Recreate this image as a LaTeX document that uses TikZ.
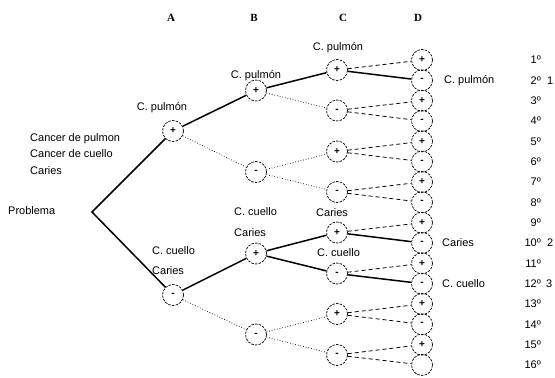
\documentclass[tikz,border=0pt]{standalone}
\usepackage{fontspec}
\setmainfont{Liberation Sans}
\newfontfamily\hfont{Liberation Serif}
\begin{document}
\begin{tikzpicture}[x=1pt,y=-1pt,
  st/.style={circle, draw, dash pattern=on 2.5pt off 1.2pt, line width=0.7pt, minimum size=21pt, inner sep=0pt, font=\fontsize{10}{10}\selectfont\bfseries},
  lbl/.style={font=\fontsize{11}{13}\selectfont, inner sep=0pt},
  hd/.style={font=\hfont\bfseries\fontsize{11}{11}\selectfont, inner sep=0pt},
  strong/.style={line width=1.5pt},
  weak/.style={line width=0.7pt, dotted},
  dsh/.style={line width=0.8pt, dash pattern=on 4pt off 3pt}]
\useasboundingbox (0,0) rectangle (555,378);
% headings
\node[hd] (hA) at (171,18) {A};
\node[hd] (hB) at (254,18) {B};
\node[hd] (hC) at (343,18) {C};
\node[hd] (hD) at (418,18) {D};
% root
\node[lbl, anchor=west] (prob) at (8,211) {Problema};
\coordinate (root) at (92,212);
\node[lbl, anchor=west, align=left, font=\fontsize{11}{16.5}\selectfont] (cases) at (30,154) {Cancer de pulmon\\Cancer de cuello\\Caries};
% level A
\node[st] (a1) at (173,131) {+};
\node[st] (a2) at (173,295) {-};
% level B
\node[st] (b1) at (256,90.5) {+};
\node[st] (b2) at (256,172) {-};
\node[st] (b3) at (256,253.5) {+};
\node[st] (b4) at (256,334.5) {-};
% level C
\node[st] (c1) at (337,70) {+};
\node[st] (c2) at (337,110.5) {-};
\node[st] (c3) at (337,151.5) {+};
\node[st] (c4) at (337,192) {-};
\node[st] (c5) at (337,232.5) {+};
\node[st] (c6) at (337,273.5) {-};
\node[st] (c7) at (337,314) {+};
\node[st] (c8) at (337,355) {-};
% level D
\foreach \i/\s in {1/+,2/-,3/+,4/-,5/+,6/-,7/+,8/-,9/+,10/-,11/+,12/-,13/+,14/-,15/+,16/{}} {
  \pgfmathsetmacro{\yy}{60+(\i-1)*20.33}
  \node[st] (d\i) at (422,\yy) {\s};
  \node[lbl, anchor=east] (n\i) at (541,\yy) {\i º};
}
\node[lbl, anchor=west] (m1) at (547,80.3) {1};
\node[lbl, anchor=west] (m2) at (547,243) {2};
\node[lbl, anchor=west] (m3) at (546,283.6) {3};
% labels
\node[lbl] (la1) at (162,108) {C. pulmón};
\node[lbl] (lb1) at (256,76) {C. pulmón};
\node[lbl] (lc1) at (338,48) {C. pulmón};
\node[lbl, anchor=west] (ld2) at (444,80.3) {C. pulmón};
\node[lbl, anchor=west] (ld10) at (442,243) {Caries};
\node[lbl, anchor=west] (ld12) at (442,283.6) {C. cuello};
\node[lbl, anchor=west, align=left, font=\fontsize{11}{20}\selectfont] (la2) at (152,261) {C. cuello\\Caries};
\node[lbl, anchor=west, align=left, font=\fontsize{11}{21}\selectfont] (lb3) at (234,222) {C. cuello\\Caries};
\node[lbl, anchor=west] (lc4) at (316,213) {Caries};
\node[lbl, anchor=west] (lc5) at (317,253) {C. cuello};
% connectors
\draw[strong] (a1) -- (root) -- (a2);
\draw[strong] (a1) -- (b1);
\draw[weak] (a1) -- (b2);
\draw[strong] (a2) -- (b3);
\draw[weak] (a2) -- (b4);
\draw[strong] (b1) -- (c1);
\draw[weak] (b1) -- (c2);
\draw[weak] (b2) -- (c3);
\draw[weak] (b2) -- (c4);
\draw[strong] (b3) -- (c5);
\draw[strong] (b3) -- (c6);
\draw[weak] (b4) -- (c7);
\draw[weak] (b4) -- (c8);
\draw[dsh] (c1) -- (d1);
\draw[strong] (c1) -- (d2);
\draw[dsh] (c2) -- (d3);
\draw[dsh] (c2) -- (d4);
\draw[dsh] (c3) -- (d5);
\draw[dsh] (c3) -- (d6);
\draw[dsh] (c4) -- (d7);
\draw[dsh] (c4) -- (d8);
\draw[dsh] (c5) -- (d9);
\draw[strong] (c5) -- (d10);
\draw[dsh] (c6) -- (d11);
\draw[strong] (c6) -- (d12);
\draw[dsh] (c7) -- (d13);
\draw[dsh] (c7) -- (d14);
\draw[dsh] (c8) -- (d15);
\draw[dsh] (c8) -- (d16);
\end{tikzpicture}
\end{document}
